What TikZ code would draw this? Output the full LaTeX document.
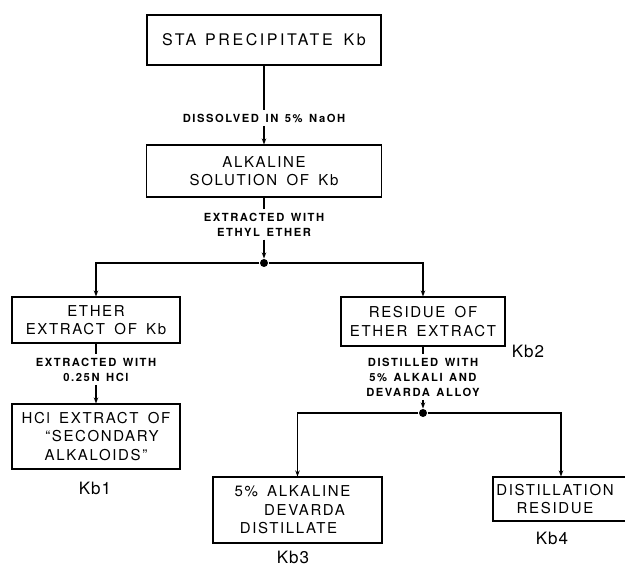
\documentclass[tikz,border=0pt]{standalone}
\usepackage{fontspec}
\usetikzlibrary{arrows.meta}
\newfontfamily\boxfont[Ligatures=TeX,LetterSpace=11,WordSpace=1.6]{TeX Gyre Heros}
\newfontfamily\boxwidefont[Ligatures=TeX,LetterSpace=16,WordSpace=1.6]{TeX Gyre Heros}
\newfontfamily\lblfont[LetterSpace=14,WordSpace=1.4]{TeX Gyre Heros}
\newfontfamily\kbfont[LetterSpace=6]{TeX Gyre Heros}
\begin{document}
\begin{tikzpicture}[x=1pt,y=-1pt,
  every path/.style={line width=1.1pt},
  box/.style={draw, line width=1.1pt, inner sep=0pt, align=center,
    font=\boxfont\fontsize{15}{18.5}\selectfont},
  lbl/.style={inner sep=3pt, align=center, font=\lblfont\bfseries\fontsize{11.2}{15}\selectfont},
  kb/.style={inner sep=0pt, font=\kbfont\fontsize{17}{20}\selectfont},
  arr/.style={-{Stealth[length=6pt,width=4.5pt]}},
  dot/.style={circle, fill=black, inner sep=0pt, minimum size=8pt}]
\useasboundingbox (0,0) rectangle (625,567);
% boxes
\node[box, minimum height=50pt, text width=204pt, inner xsep=15pt, align=left,
  font=\boxwidefont\fontsize{16}{18.5}\selectfont] (b1) at (264,40) {STA\hspace{9pt}PRECIPITATE\hspace{11pt}Kb};
\node[box, minimum width=235pt, minimum height=52pt] (b2) at (264,171) {ALKALINE\\SOLUTION OF Kb};
\node[box, minimum width=168pt, minimum height=46pt] (b3) at (96,320) {ETHER\\EXTRACT OF Kb};
\node[box, minimum width=164pt, minimum height=49pt] (b4) at (423,321.5) {RESIDUE OF\\ETHER EXTRACT};
\node[box, minimum width=168pt, minimum height=65pt] (b5) at (96,436.5) {HCl EXTRACT OF\\\hspace*{12pt}``SECONDARY\\ALKALOIDS''};
\node[box, minimum width=169pt, minimum height=66pt] (b6) at (297.5,510) {\hspace*{-10pt}5\% ALKALINE\\\hspace*{14pt}DEVARDA\\\hspace*{-18pt}DISTILLATE};
\node[box, minimum width=136pt, minimum height=44pt] (b7) at (561,499) {\hspace*{-12pt}DISTILLATION\\\hspace*{-12pt}RESIDUE};
% labels
\node[lbl] (l1) at (264,118) {DISSOLVED IN 5\% NaOH};
\node[lbl] (l2) at (264,224.5) {EXTRACTED WITH\\ETHYL ETHER};
\node[lbl] (l3) at (96,369.5) {EXTRACTED WITH\\0.25N HCl};
\node[lbl] (l4) at (423,377) {DISTILLED WITH\\5\% ALKALI AND\\DEVARDA ALLOY};
\node[kb] (k1) at (95,488) {Kb1};
\node[kb] (k2) at (528,351) {Kb2};
\node[kb] (k3) at (293,557) {Kb3};
\node[kb] (k4) at (552,538) {Kb4};
% junctions
\node[dot] (j1) at (264,263) {};
\node[dot] (j2) at (423,413) {};
% connectors
\draw (b1) -- (l1);
\draw[arr] (l1) -- (b2);
\draw (b2) -- (l2);
\draw[arr] (l2) -- (j1);
\draw[arr] (j1) -| (b3);
\draw[arr] (j1) -| (b4);
\draw (b3) -- (l3);
\draw[arr] (l3) -- (b5);
\draw (b4) -- (l4);
\draw[arr] (l4) -- (j2);
\draw[arr] (j2) -| (b6);
\draw[arr] (j2) -| (b7);
\end{tikzpicture}
\end{document}
